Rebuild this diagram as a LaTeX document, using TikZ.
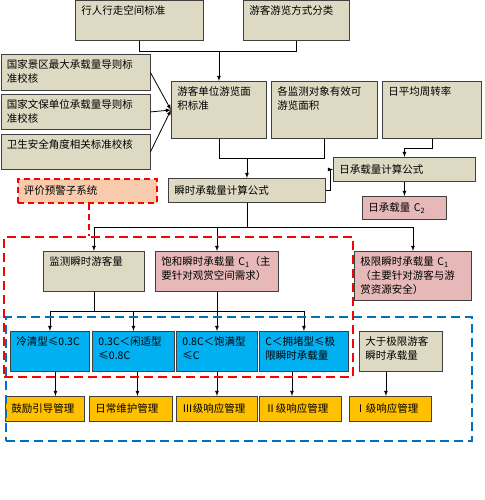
\documentclass[tikz,border=0pt]{standalone}
\usepackage{fontspec}
\setmainfont{Noto Sans CJK SC}
\usetikzlibrary{shapes,arrows,positioning,calc}
\definecolor{boxtan}{RGB}{221,217,195}
\definecolor{boxpink}{RGB}{230,185,184}
\definecolor{boxsalmon}{RGB}{248,203,173}
\definecolor{boxcyan}{RGB}{0,176,240}
\definecolor{boxgold}{RGB}{255,192,0}
\definecolor{zonered}{RGB}{255,0,0}
\definecolor{zoneblue}{RGB}{0,112,192}

\tikzset{
  box/.style={rectangle,draw=black!75,line width=0.9pt,anchor=north west,
    inner xsep=6pt,inner ysep=5pt,align=left,
    font=\fontsize{10.5}{14}\selectfont},
  sz/.style 2 args={minimum width=#1pt,minimum height=#2pt,text width=#1pt-12pt},
  tsz/.style 2 args={sz={#1}{#2},text height=9pt,text depth=#2pt-19pt},
  zone/.style={rectangle,anchor=north west,inner sep=0pt,line width=2.2pt,
    dash pattern=on 9pt off 5pt},
  warnline/.style={draw=zonered,line width=1.8pt,dash pattern=on 6pt off 4pt},
}

\begin{document}
\begin{tikzpicture}[x=1pt,y=-1pt,>=latex,line width=0.8pt]
  \useasboundingbox (0,0) rectangle (484,500);

  % Standards
  \node[box,fill=boxtan,tsz={128}{40}] (walk) at (75,0.5) {行人行走空间标准};
  \node[box,fill=boxtan,tsz={106}{40}] (mode) at (243,0.5) {游客游览方式分类};
  \node[box,fill=boxtan,tsz={149}{36}] (natl) at (0.5,54) {国家景区最大承载量导则标\\准校核};
  \node[box,fill=boxtan,tsz={149}{35}] (relic) at (0.5,94) {国家文保单位承载量导则标\\准校核};
  \node[box,fill=boxtan,tsz={149}{35}] (hyg) at (0.5,134) {卫生安全角度相关标准校核};

  % Inputs
  \node[box,fill=boxtan,tsz={95}{57}] (unit) at (171,81) {游客单位游览面\\积标准};
  \node[box,fill=boxtan,tsz={106}{57}] (area) at (271,81) {各监测对象有效可\\游览面积};
  \node[box,fill=boxtan,tsz={99}{57}] (turn) at (382,81) {日平均周转率};

  % Formulas
  \node[box,fill=boxtan,sz={142}{24}] (dayf) at (333,157) {日承载量计算公式};
  \node[box,fill=boxtan,sz={157}{24}] (instf) at (168,178) {瞬时承载量计算公式};
  \node[box,fill=boxpink,sz={84}{23}] (dayc) at (362,196) {日承载量 C\textsubscript{2}};
  \node[box,fill=boxsalmon,warnline,sz={139}{24}] (warn) at (17,178) {评价预警子系统};

  % Capacities
  \node[box,fill=boxtan,tsz={101}{40}] (mon) at (43,251) {监测瞬时游客量};
  \node[box,fill=boxpink,tsz={123}{40}] (sat) at (155,251) {饱和瞬时承载量 C\textsubscript{1}（主\\要针对观赏空间需求）};
  \node[box,fill=boxpink,tsz={117}{49}] (lim) at (354,251) {极限瞬时承载量 C\textsubscript{1}\\（主要针对游客与游\\赏资源安全）};

  % Levels
  \node[box,fill=boxcyan,tsz={79}{40}] (cold) at (10,331) {冷清型≤0.3C};
  \node[box,fill=boxcyan,tsz={82}{40}] (calm) at (92,331) {0.3C＜闲适型\\≤0.8C};
  \node[box,fill=boxcyan,tsz={81}{40}] (full) at (176,331) {0.8C＜饱满型\\≤C};
  \node[box,fill=boxcyan,tsz={89}{40}] (jam) at (259,331) {C＜拥堵型≤极\\限瞬时承载量};
  \node[box,fill=boxtan,tsz={83}{40}] (over) at (359,331) {大于极限游客\\瞬时承载量};

  % Management
  \node[box,fill=boxgold,sz={79}{25}] (g1) at (5,396) {鼓励引导管理};
  \node[box,fill=boxgold,sz={83}{25}] (g2) at (89,396) {日常维护管理};
  \node[box,fill=boxgold,sz={81}{25}] (g3) at (176,396) {Ⅲ级响应管理};
  \node[box,fill=boxgold,sz={82}{25}] (g4) at (259,396) {Ⅱ级响应管理};
  \node[box,fill=boxgold,sz={82}{25}] (g5) at (349,396) {Ⅰ级响应管理};

  % Connectors
  \coordinate (j1) at ($(walk.south)+(0,10)$);
  \draw (walk.south) -- (j1) -| (mode.south);
  \draw[->] (j1 -| unit.north) -- (unit.north);
  \foreach \n in {natl,relic,hyg}
    \draw[->] (\n.east) -- (unit.west);

  \coordinate (j2) at ($(unit.south)+(0,19)$);
  \draw (unit.south) -- (j2) -| (area.south);
  \draw[->] (j2 -| instf.north) -- (instf.north);
  \draw[->] (turn.south) -- ++(0,9) -| (dayf.north);
  \draw[->] (instf.east) -- ++(4,0) |- (dayf.west);
  \draw[->] (dayf.south) -- (dayc.north);

  \coordinate (j3) at ($(instf.south)+(0,24)$);
  \draw (instf.south) -- (j3);
  \foreach \n in {mon,sat,lim}
    \draw[->] (j3) -| (\n.north);

  \coordinate (j4) at ($(mon.south)+(0,19)$);
  \draw (mon.south) -- (j4);
  \draw (sat.south) -- (sat.south |- j4);
  \foreach \n in {cold,calm,full,jam}
    \draw[->] (j4) -| (\n.north);

  \foreach \a/\b/\d in {cold/g1/5.5,calm/g2/4,full/g3/0,jam/g4/-12,over/g5/-15} {
    \path (\a.south) ++(\d,0) coordinate (tip);
    \draw[->] (tip) -- (tip |- \b.north);
  }

  % Subsystem zones
  \node[zone,draw=zoneblue,minimum width=466pt,minimum height=124pt] (bluezone) at (5,316) {};
  \node[zone,draw=zonered,minimum width=349pt,minimum height=140pt] (redzone) at (3,236) {};
  \coordinate (wtop) at ([xshift=2pt]warn.south);
  \draw[zonered,line width=2pt,dash pattern=on 6pt off 4pt] (wtop) -- (wtop |- redzone.north);
\end{tikzpicture}
\end{document}
